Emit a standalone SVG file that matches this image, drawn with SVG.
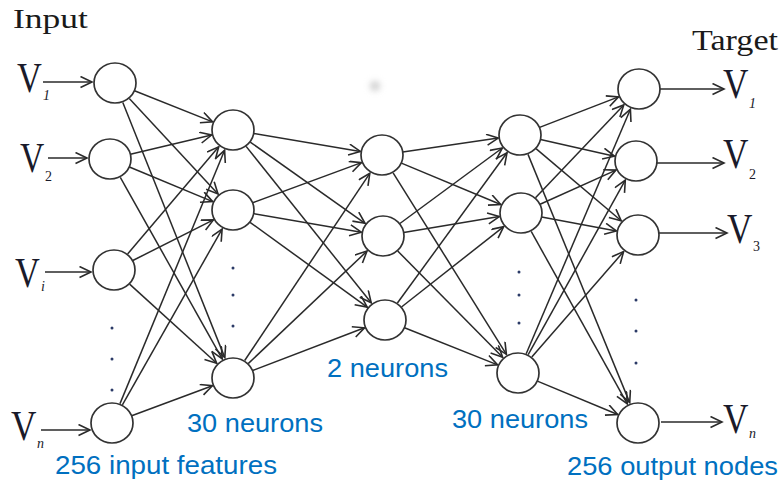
<svg xmlns="http://www.w3.org/2000/svg" width="782" height="481" viewBox="0 0 782 481">
<style>
.node{fill:#fff;stroke:#333;stroke-width:1.7}
.conn line{stroke:#2a2a2a;stroke-width:1.5;marker-end:url(#ah)}
.v{font-family:"Liberation Serif","Times New Roman",serif;font-size:42px;fill:#1a1a2a}
.sub{font-family:"Liberation Serif","Times New Roman",serif;font-size:14px;fill:#1a1a2a}
.it{font-style:italic}
.title{font-family:"Liberation Serif","Times New Roman",serif;fill:#1a1a1a}
.lbl{font-family:"Liberation Sans",Arial,sans-serif;font-size:25px;fill:#0070C0}
.dot{fill:#2b3a67}
</style>
<defs>
<marker id="ah" markerUnits="userSpaceOnUse" markerWidth="16" markerHeight="14" refX="12.5" refY="6" orient="auto">
<path d="M1,0.5 L12.5,6 L1,11.5" fill="none" stroke="#2a2a2a" stroke-width="1.6"/>
</marker>
<filter id="blur" x="-2" y="-2" width="5" height="5"><feGaussianBlur stdDeviation="3"/></filter>
</defs>
<rect width="782" height="481" fill="#fff"/>
<ellipse cx="375" cy="86" rx="5" ry="5" fill="#cfcfcf" filter="url(#blur)"/>

<text class="title" x="13" y="28" font-size="27" textLength="75" lengthAdjust="spacingAndGlyphs">Input</text>
<text class="title" x="692" y="50" font-size="29" textLength="86" lengthAdjust="spacingAndGlyphs">Target</text>

<g id="connectors" class="conn">
<line x1="43" y1="82" x2="92" y2="82"/>
<line x1="48" y1="158" x2="87" y2="158"/>
<line x1="45" y1="272" x2="91" y2="272"/>
<line x1="41" y1="430" x2="90" y2="430"/>

<line x1="134.5" y1="90.8" x2="212.6" y2="121.9"/>
<line x1="129.3" y1="98.4" x2="218.0" y2="193.9"/>
<line x1="122.8" y1="102.5" x2="224.8" y2="357.6"/>
<line x1="130.4" y1="154.2" x2="211.6" y2="135.0"/>
<line x1="129.4" y1="167.0" x2="212.7" y2="201.6"/>
<line x1="120.3" y1="177.3" x2="222.2" y2="358.8"/>
<line x1="127.6" y1="254.0" x2="218.7" y2="146.8"/>
<line x1="132.8" y1="260.5" x2="213.4" y2="219.9"/>
<line x1="129.6" y1="284.1" x2="216.7" y2="363.2"/>
<line x1="120.0" y1="403.6" x2="224.6" y2="150.3"/>
<line x1="122.4" y1="404.8" x2="222.1" y2="229.1"/>
<line x1="131.7" y1="415.7" x2="212.4" y2="385.7"/>

<line x1="253.7" y1="133.5" x2="360.3" y2="151.4"/>
<line x1="250.2" y1="142.1" x2="365.0" y2="223.3"/>
<line x1="246.1" y1="146.4" x2="371.2" y2="302.8"/>
<line x1="252.7" y1="202.7" x2="361.4" y2="162.6"/>
<line x1="253.7" y1="213.6" x2="361.3" y2="232.2"/>
<line x1="250.0" y1="222.3" x2="367.2" y2="307.1"/>
<line x1="244.7" y1="360.5" x2="369.8" y2="173.3"/>
<line x1="248.2" y1="363.6" x2="367.0" y2="251.1"/>
<line x1="252.6" y1="370.5" x2="364.5" y2="327.8"/>

<line x1="402.8" y1="152.0" x2="498.2" y2="138.1"/>
<line x1="401.4" y1="163.1" x2="500.7" y2="204.5"/>
<line x1="393.1" y1="172.8" x2="506.4" y2="354.3"/>
<line x1="399.9" y1="223.5" x2="502.3" y2="148.0"/>
<line x1="403.7" y1="232.6" x2="499.3" y2="216.6"/>
<line x1="397.7" y1="251.0" x2="502.6" y2="357.3"/>
<line x1="397.4" y1="303.0" x2="507.0" y2="152.8"/>
<line x1="401.5" y1="307.0" x2="503.7" y2="226.6"/>
<line x1="404.5" y1="327.8" x2="497.6" y2="364.9"/>

<line x1="539.6" y1="127.4" x2="618.5" y2="96.9"/>
<line x1="540.5" y1="139.6" x2="614.5" y2="156.2"/>
<line x1="536.0" y1="148.6" x2="621.2" y2="220.8"/>
<line x1="528.0" y1="154.4" x2="629.7" y2="402.6"/>
<line x1="535.5" y1="197.8" x2="623.8" y2="104.9"/>
<line x1="540.1" y1="204.3" x2="616.0" y2="170.1"/>
<line x1="541.6" y1="216.9" x2="616.4" y2="230.9"/>
<line x1="531.2" y1="231.4" x2="627.3" y2="403.8"/>
<line x1="526.2" y1="353.7" x2="630.4" y2="109.2"/>
<line x1="528.2" y1="354.6" x2="625.3" y2="180.2"/>
<line x1="531.8" y1="357.1" x2="623.6" y2="251.6"/>
<line x1="537.4" y1="381.1" x2="617.7" y2="414.5"/>

<line x1="660" y1="89" x2="724" y2="89"/>
<line x1="657" y1="163" x2="724" y2="163"/>
<line x1="659" y1="233" x2="727" y2="233"/>
<line x1="661" y1="422" x2="722" y2="422"/>
</g>

<g id="in1"><ellipse class="node" cx="115" cy="83" rx="21" ry="20"/></g>
<g id="in2"><ellipse class="node" cx="110" cy="159" rx="21" ry="20"/></g>
<g id="in3"><ellipse class="node" cx="114" cy="270" rx="21" ry="20"/></g>
<g id="in4"><ellipse class="node" cx="112" cy="423" rx="21" ry="20"/></g>
<g id="h1a"><ellipse class="node" cx="233" cy="130" rx="21" ry="20"/></g>
<g id="h1b"><ellipse class="node" cx="233" cy="210" rx="21" ry="20"/></g>
<g id="h1c"><ellipse class="node" cx="233" cy="378" rx="21" ry="20"/></g>
<g id="c1"><ellipse class="node" cx="382" cy="155" rx="21" ry="20"/></g>
<g id="c2"><ellipse class="node" cx="383" cy="236" rx="21" ry="20"/></g>
<g id="c3"><ellipse class="node" cx="385" cy="320" rx="21" ry="20"/></g>
<g id="h2a"><ellipse class="node" cx="520" cy="135" rx="21" ry="20"/></g>
<g id="h2b"><ellipse class="node" cx="521" cy="213" rx="21" ry="20"/></g>
<g id="h2c"><ellipse class="node" cx="518" cy="373" rx="21" ry="20"/></g>
<g id="out1"><ellipse class="node" cx="639" cy="89" rx="21" ry="20"/></g>
<g id="out2"><ellipse class="node" cx="636" cy="161" rx="21" ry="20"/></g>
<g id="out3"><ellipse class="node" cx="638" cy="235" rx="21" ry="20"/></g>
<g id="out4"><ellipse class="node" cx="638" cy="423" rx="21" ry="20"/></g>

<g id="dots">
<circle class="dot" cx="112" cy="328" r="1.5"/><circle class="dot" cx="112" cy="359" r="1.5"/><circle class="dot" cx="112" cy="390" r="1.5"/>
<circle class="dot" cx="233" cy="268" r="1.5"/><circle class="dot" cx="233" cy="295" r="1.5"/><circle class="dot" cx="233" cy="326" r="1.5"/>
<circle class="dot" cx="519" cy="272" r="1.5"/><circle class="dot" cx="519" cy="295" r="1.5"/><circle class="dot" cx="519" cy="323" r="1.5"/>
<circle class="dot" cx="636" cy="300" r="1.5"/><circle class="dot" cx="636" cy="331" r="1.5"/><circle class="dot" cx="636" cy="363" r="1.5"/>
</g>

<g id="inputs">
<text class="v" transform="translate(17,92) scale(0.82,1)">V</text><text class="sub it" x="43" y="100">1</text>
<text class="v" transform="translate(20,172) scale(0.8,1)">V</text><text class="sub" x="45" y="181">2</text>
<text class="v" transform="translate(15,287) scale(0.82,1)">V</text><text class="sub it" x="41" y="291">i</text>
<text class="v" transform="translate(11,440) scale(0.84,1)">V</text><text class="sub it" x="37" y="448">n</text>
</g>
<g id="targets">
<text class="v" transform="translate(723,98) scale(0.84,1)">V</text><text class="sub it" x="749" y="108">1</text>
<text class="v" transform="translate(723,168) scale(0.84,1)">V</text><text class="sub" x="749" y="179">2</text>
<text class="v" transform="translate(727,243) scale(0.84,1)">V</text><text class="sub" x="753" y="251">3</text>
<text class="v" transform="translate(723,433) scale(0.84,1)">V</text><text class="sub it" x="749" y="438">n</text>
</g>

<g id="labels">
<text class="lbl" x="187" y="432" textLength="136" lengthAdjust="spacingAndGlyphs">30 neurons</text>
<text class="lbl" x="55" y="474" textLength="222" lengthAdjust="spacingAndGlyphs">256 input features</text>
<text class="lbl" x="327" y="377" textLength="121" lengthAdjust="spacingAndGlyphs">2 neurons</text>
<text class="lbl" x="452" y="428" textLength="136" lengthAdjust="spacingAndGlyphs">30 neurons</text>
<text class="lbl" x="567" y="475" textLength="211" lengthAdjust="spacingAndGlyphs">256 output nodes</text>
</g>
</svg>
